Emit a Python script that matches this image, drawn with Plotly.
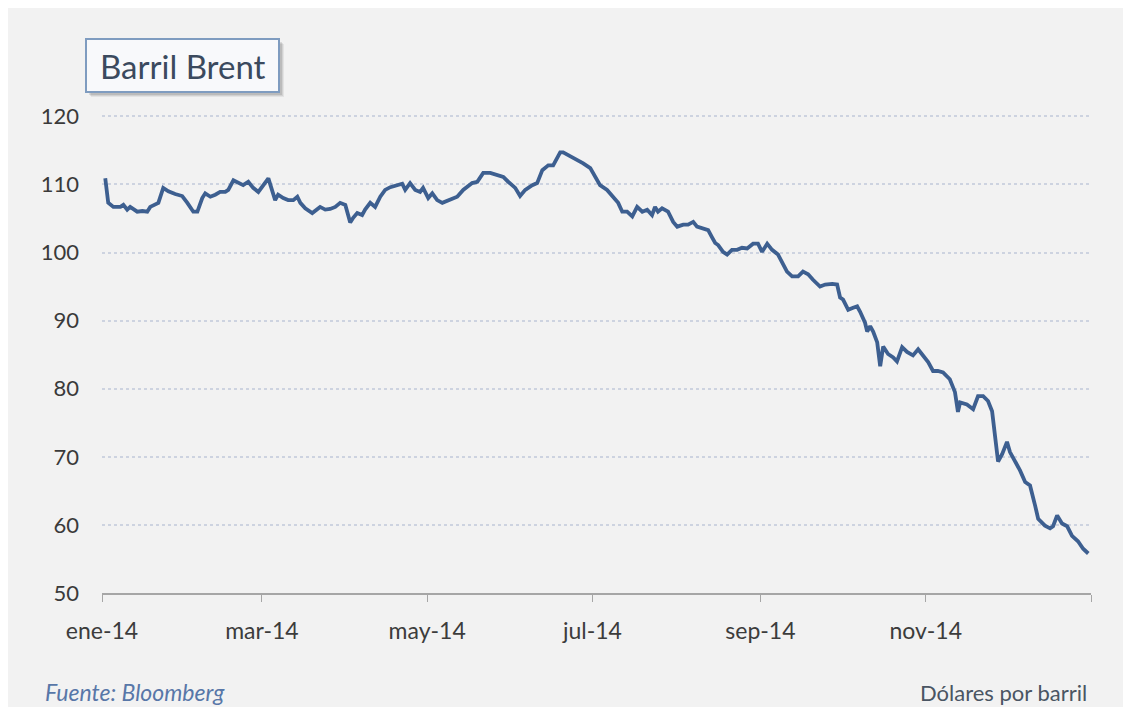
import pandas as pd
import plotly.graph_objects as go

# Day offsets from 1 Jan 2014 and Brent price in USD/barrel
days = [1.2, 2.3, 4.2, 6.8, 7.9, 9.3, 10.4, 13.0, 14.9, 16.7, 17.8, 19.7, 20.8, 22.6, 24.5,
        27.0, 29.6, 31.5, 33.7, 35.2, 37.0, 38.1, 40.0, 41.8, 43.6, 45.5, 46.6, 48.5, 50.3,
        52.1, 54.0, 55.8, 57.7, 59.5, 61.4, 63.9, 65.0, 66.9, 68.7, 70.6, 72.1, 73.2, 75.0,
        77.6, 79.4, 80.5, 82.4, 84.2, 86.1, 87.9, 89.8, 91.6, 92.7, 94.2, 96.0, 97.1, 99.0,
        100.8, 102.7, 104.5, 106.4, 108.9, 110.8, 111.9, 113.7, 115.6, 117.4, 118.5, 120.4,
        121.9, 123.7, 125.6, 128.5, 131.1, 133.3, 136.6, 138.5, 140.7, 143.3, 145.8, 148.1,
        149.9, 152.5, 154.3, 156.2, 158.8, 160.6, 162.5, 164.7, 166.5, 169.1, 170.2, 172.0,
        173.9, 175.7, 177.6, 180.2, 182.0, 183.8, 186.4, 188.6, 190.5, 192.0, 193.8, 195.7,
        197.5, 199.4, 201.2, 203.0, 204.1, 205.2, 206.7, 208.9, 210.8, 212.3, 214.5, 216.3,
        218.2, 219.6, 221.9, 223.7, 225.2, 226.3, 227.4, 229.2, 230.7, 232.5, 234.4, 236.2,
        238.1, 240.3, 242.1, 243.6, 245.5, 247.3, 249.5, 251.4, 252.8, 254.7, 256.9, 258.7,
        260.6, 262.4, 265.0, 266.9, 269.5, 271.3, 272.4, 273.5, 275.4, 277.2, 278.7, 279.8,
        281.6, 282.4, 283.5, 284.6, 286.1, 287.2, 288.3, 290.1, 292.0, 293.4, 295.3, 297.1,
        299.3, 301.2, 303.0, 304.9, 306.7, 308.5, 310.4, 312.9, 314.8, 315.9, 316.7, 319.2,
        321.5, 323.3, 325.2, 327.0, 328.5, 329.6, 330.7, 332.2, 334.0, 335.1, 337.0, 338.8,
        340.7, 342.5, 344.4, 345.5, 348.0, 349.9, 351.0, 352.5, 354.3, 356.2, 358.0, 360.2,
        362.1, 364.0]

prices = [110.9, 107.3, 106.7, 106.7, 107.0, 106.3, 106.7, 106.0, 106.1, 106.0, 106.7, 107.0,
          107.3, 109.5, 109.0, 108.6, 108.3, 107.3, 106.0, 106.0, 108.0, 108.7, 108.2, 108.5,
          108.9, 108.9, 109.2, 110.6, 110.2, 109.9, 110.4, 109.5, 108.9, 109.9, 110.9, 107.7,
          108.5, 108.0, 107.7, 107.7, 108.2, 107.3, 106.5, 105.8, 106.3, 106.7, 106.3, 106.4,
          106.7, 107.3, 107.0, 104.4, 105.1, 105.8, 105.5, 106.3, 107.3, 106.7, 108.2, 109.2,
          109.6, 109.9, 110.1, 109.2, 110.2, 109.2, 108.9, 109.5, 108.0, 108.7, 107.7, 107.3,
          107.7, 108.2, 109.2, 110.2, 110.4, 111.7, 111.7, 111.4, 111.1, 110.4, 109.5, 108.3,
          109.2, 109.9, 110.2, 112.1, 112.8, 112.8, 114.7, 114.7, 114.3, 113.9, 113.6, 113.1,
          112.4, 111.1, 109.9, 109.2, 108.2, 107.3, 106.0, 106.0, 105.3, 106.7, 106.0, 106.3,
          105.5, 106.7, 106.0, 106.5, 106.0, 104.5, 103.8, 104.1, 104.1, 104.5, 103.8, 103.5,
          103.3, 102.2, 101.4, 101.1, 100.1, 99.7, 100.4, 100.4, 100.7, 100.6, 101.3, 101.3,
          100.1, 101.3, 100.4, 99.7, 98.2, 97.2, 96.5, 96.5, 97.2, 96.8, 96.0, 95.0, 95.3, 95.4,
          95.3, 93.4, 93.1, 91.6, 91.9, 92.1, 91.3, 89.7, 88.4, 89.2, 88.4, 86.8, 83.3, 86.2,
          85.1, 84.6, 84.0, 86.1, 85.4, 84.9, 85.8, 84.8, 83.9, 82.6, 82.6, 82.4, 81.4, 79.5,
          76.6, 78.0, 77.7, 77.0, 78.9, 78.9, 78.2, 76.7, 72.6, 69.3, 70.4, 72.2, 70.7, 69.3,
          68.0, 66.3, 65.8, 62.8, 60.9, 59.9, 59.5, 59.8, 61.4, 60.2, 59.8, 58.4, 57.6, 56.5,
          55.8]

tick_dates = ["2014-01-01", "2014-03-01", "2014-05-01", "2014-07-01",
              "2014-09-01", "2014-11-01", "2015-01-01"]
tick_labels = ["ene-14", "mar-14", "may-14", "jul-14", "sep-14", "nov-14", ""]
y_ticks = [50, 60, 70, 80, 90, 100, 110, 120]

title_text = "Barril Brent"
source_text = "<i>Fuente: Bloomberg</i>"
unit_text = "Dólares por barril"

start = pd.Timestamp("2014-01-01")
dates = [start + pd.Timedelta(days=d) for d in days]

FONT = "Lato"
BG = "#f2f2f2"

fig = go.Figure()
fig.add_trace(go.Scatter(
    x=dates, y=prices, mode="lines",
    line=dict(color="#3d5f90", width=3.8),
    hoverinfo="x+y", showlegend=False,
))

# The page body keeps its default 8px margin; the figure fills the rest of the window
fig.update_layout(
    width=1123, height=699, autosize=False,
    margin=dict(l=93.7, r=40.3, t=107.4, b=114),
    paper_bgcolor=BG, plot_bgcolor=BG,
    font=dict(family=FONT, color="#404040"),
    xaxis=dict(
        type="date",
        range=["2014-01-01", "2015-01-01"],
        tickmode="array", tickvals=tick_dates, ticktext=tick_labels,
        showgrid=False, zeroline=False,
        showline=True, linecolor="#a6a6a6", linewidth=1.5,
        ticks="outside", ticklen=7, tickcolor="#a6a6a6", tickwidth=1,
        tickfont=dict(family=FONT, size=23, color="#3c3c3c"),
        ticklabelstandoff=10,
    ),
    yaxis=dict(
        range=[50, 120.2],
        tickmode="array", tickvals=y_ticks,
        showgrid=True, gridcolor="#cdd3e0", gridwidth=1.5, griddash="dot",
        zeroline=False, showline=False, ticks="",
        tickfont=dict(family=FONT, size=22, color="#3a3a3a"),
        ticklabelstandoff=22,
    ),
)

# Title box with a soft shadow
for off, alpha in [(5, 0.06), (4, 0.08), (3, 0.10)]:
    fig.add_shape(type="rect", xref="paper", yref="paper",
                  xsizemode="pixel", ysizemode="pixel", xanchor=0, yanchor=1,
                  x0=-16 + off, x1=177 + off, y0=23.1 - off, y1=76.1 - off,
                  line=dict(width=0), fillcolor=f"rgba(0,0,0,{alpha})", layer="below")
fig.add_shape(type="rect", xref="paper", yref="paper",
              xsizemode="pixel", ysizemode="pixel", xanchor=0, yanchor=1,
              x0=-16, x1=177, y0=23.1, y1=76.1,
              line=dict(color="#7f9cc0", width=2), fillcolor="#f8f9fb", layer="above")

fig.add_annotation(text=title_text, xref="paper", yref="paper", x=0, y=1,
                   xshift=80.5, yshift=49.4, xanchor="center", yanchor="middle",
                   showarrow=False, font=dict(family=FONT, size=33, color="#3b4a5e"))

fig.add_annotation(text=source_text, xref="paper", yref="paper", x=0, y=0,
                   xshift=-59, yshift=-99, xanchor="left", yanchor="middle",
                   showarrow=False, font=dict(family=FONT, size=23, color="#5877a8"))
fig.add_annotation(text=unit_text, xref="paper", yref="paper", x=1, y=0,
                   xshift=-2, yshift=-99, xanchor="right", yanchor="middle",
                   showarrow=False, font=dict(family=FONT, size=22, color="#4a5563"))

fig.write_html("out.html")
